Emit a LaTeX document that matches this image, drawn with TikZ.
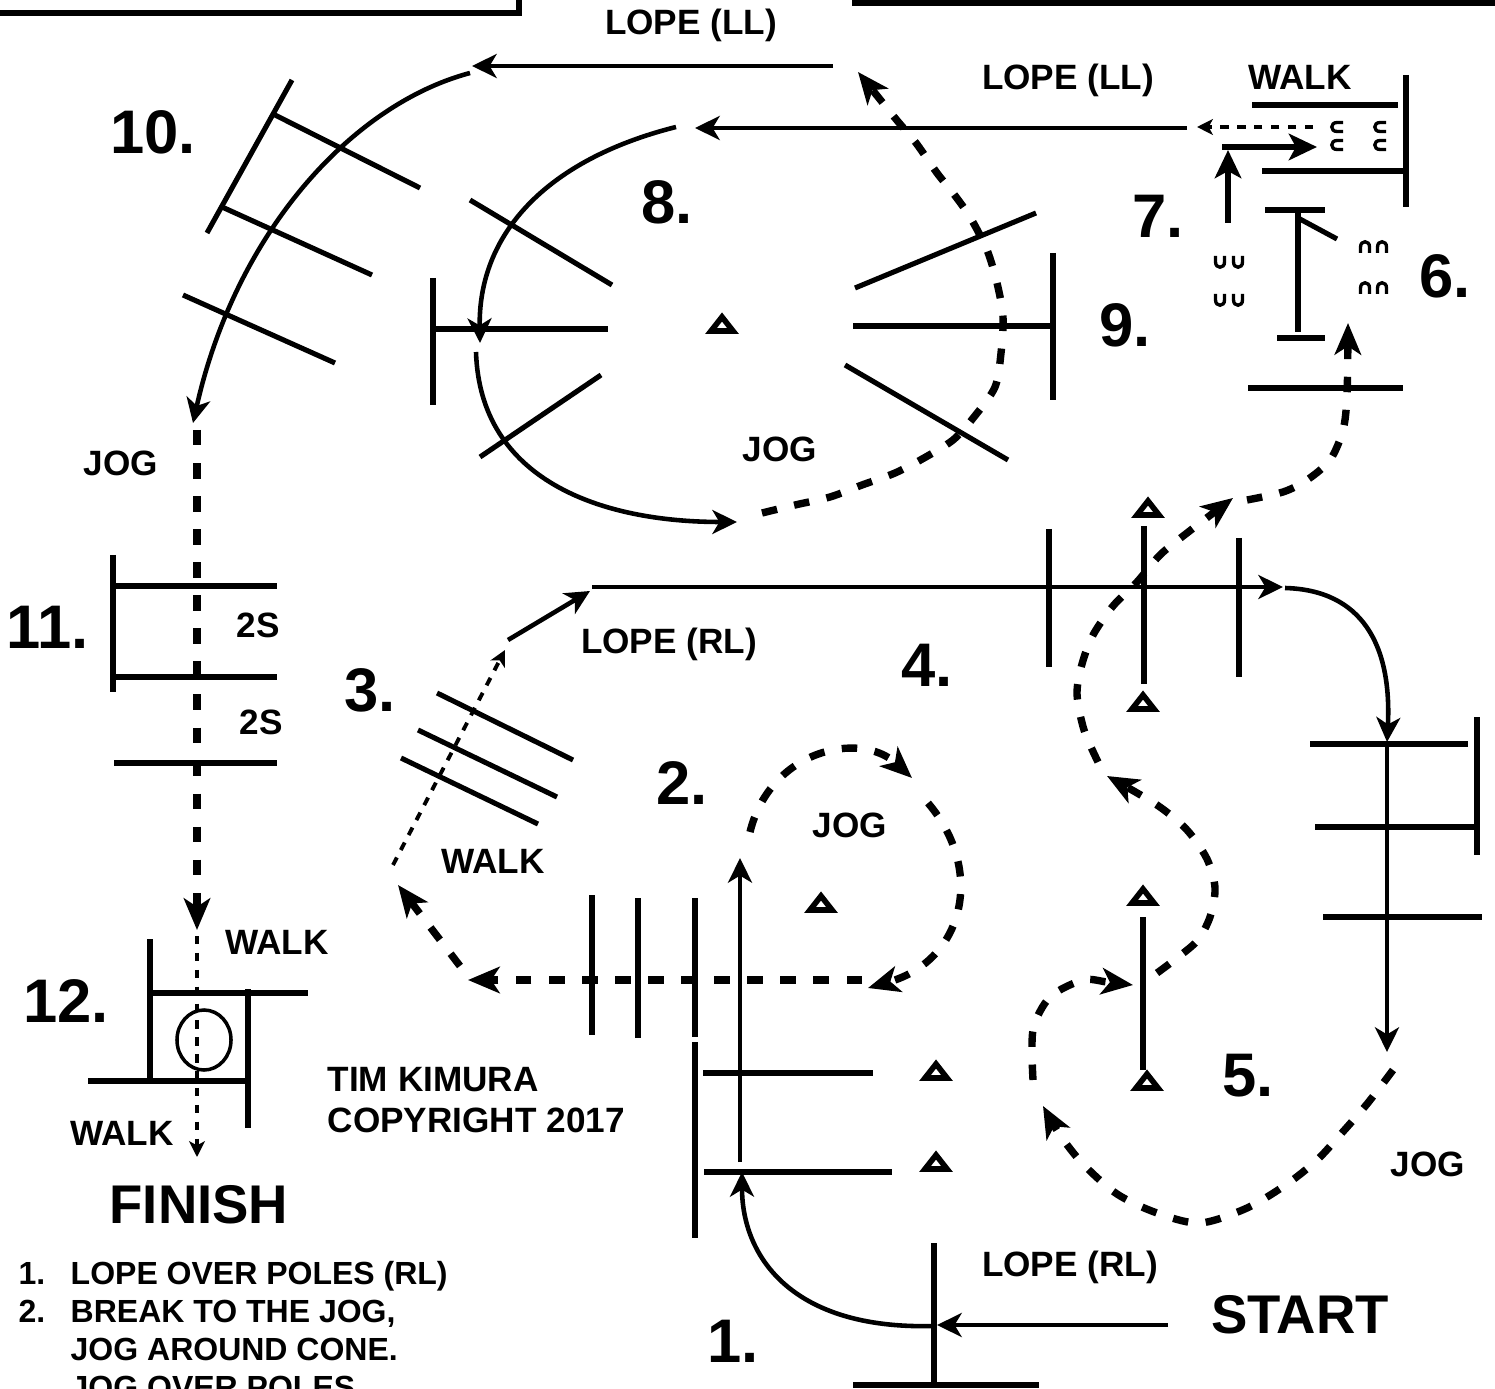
\documentclass[tikz,border=0pt]{standalone}
\usepackage{fontspec}
\setmainfont{Liberation Sans}
\usetikzlibrary{arrows.meta}

\tikzset{
  cone/.pic={\draw[line width=1.6pt,line join=miter] (-11,6) -- (11,6) -- (0,-8) -- cycle;},
  hoof/.pic={\draw[line width=0.95pt] (-4.5,6) -- (-4.5,0) .. controls (-4.5,-7) and (4.5,-7) .. (4.5,0) -- (4.5,6);}
}

\begin{document}
\begin{tikzpicture}[x=0.01cm,y=-0.01cm,
  pole/.style={line width=1.45pt},
  lope/.style={line width=1.3pt,-{Stealth[length=7pt,width=6.8pt,inset=2pt]}},
  jog/.style={line width=2.1pt,dash pattern=on 4.4pt off 5pt,-{Stealth[length=9pt,width=7.5pt,inset=2.4pt]}},
  walk/.style={line width=1.1pt,dash pattern=on 2.4pt off 2.4pt,-{Stealth[length=4.5pt,width=4.5pt,inset=1.2pt]}},
  heavy/.style={line width=1.6pt,-{Stealth[length=8pt,width=7.5pt,inset=2pt]}},
  lbl/.style={inner sep=0pt,font=\fontsize{10}{12}\selectfont\bfseries},
  num/.style={inner sep=0pt,font=\fontsize{17.5}{20}\selectfont\bfseries},
  big/.style={inner sep=0pt,font=\fontsize{15.5}{18}\selectfont\bfseries},
  list/.style={inner sep=0pt,anchor=base west,font=\fontsize{9.1}{11}\selectfont\bfseries}]
  \useasboundingbox (0,0) rectangle (1495,1389);
  \clip (0,0) rectangle (1495,1389);

  % frame pieces at the top
  \draw[line width=1.45pt] (0,13) -- (519,13) -- (519,-5);
  \draw[line width=1.7pt] (852,3) -- (1500,3);

  % 10. poles on the curve
  \draw[pole] (292,80) -- (207,233);
  \draw[pole] (275,115) -- (420,188);
  \draw[pole] (222,207) -- (372,275);
  \draw[pole] (183,295) -- (335,363);

  % 8. poles round the cone
  \draw[pole] (433,278) -- (433,405);
  \draw[pole] (433,329) -- (608,329);
  \draw[pole] (470,200) -- (612,285);
  \draw[pole] (480,457) -- (601,375);
  \draw[pole] (855,288) -- (1036,213);
  \draw[pole] (853,326) -- (1053,326);
  \draw[pole] (1053,253) -- (1053,400);
  \draw[pole] (845,365) -- (1008,460);

  % 7. walk-in box and 6. side pass
  \draw[pole] (1252,105) -- (1398,105);
  \draw[pole] (1406,75) -- (1406,207);
  \draw[pole] (1262,171) -- (1407,171);
  \draw[pole] (1265,210) -- (1325,210);
  \draw[pole] (1298,210) -- (1298,332);
  \draw[pole] (1298,218) -- (1337,239);
  \draw[pole] (1277,338) -- (1325,338);
  \draw[pole] (1248,388) -- (1403,388);

  % 11. and 12.
  \draw[pole] (113,555) -- (113,692);
  \draw[pole] (113,586) -- (277,586);
  \draw[pole] (113,677) -- (277,677);
  \draw[pole] (114,763) -- (277,763);
  \draw[pole] (150,939) -- (150,1080);
  \draw[pole] (147,993) -- (308,993);
  \draw[pole] (248,989) -- (248,1128);
  \draw[pole] (88,1081) -- (250,1081);
  \draw[line width=1pt] (204,1040) ellipse [x radius=0.27cm,y radius=0.30cm];

  % 3. walk-over poles
  \draw[pole] (437,693) -- (573,760);
  \draw[pole] (418,730) -- (557,797);
  \draw[pole] (401,758) -- (538,824);

  % 4. and the poles after it
  \draw[pole] (1049,529) -- (1049,667);
  \draw[pole] (1144,526) -- (1144,684);
  \draw[pole] (1239,538) -- (1239,677);
  \draw[pole] (1310,744) -- (1468,744);
  \draw[pole] (1477,717) -- (1477,855);
  \draw[pole] (1315,827) -- (1477,827);
  \draw[pole] (1323,917) -- (1482,917);

  % 5. single pole
  \draw[pole] (1143,917) -- (1143,1070);

  % 2. and 1.
  \draw[pole] (592,895) -- (592,1035);
  \draw[pole] (638,898) -- (638,1038);
  \draw[pole] (695,898) -- (695,1037);
  \draw[pole] (695,1042) -- (695,1238);
  \draw[pole] (703,1073) -- (873,1073);
  \draw[pole] (704,1172) -- (892,1172);
  \draw[pole] (934,1243) -- (934,1382);
  \draw[pole] (853,1385) -- (1039,1385);

  % cones
  \pic at (722,325) {cone};
  \pic at (1148,509) {cone};
  \pic at (1143,703) {cone};
  \pic at (821,904) {cone};
  \pic at (936,1072) {cone};
  \pic at (936,1163) {cone};
  \pic at (1143,897) {cone};
  \pic at (1147,1082) {cone};

  % hoof prints
  \pic at (1365,247) {hoof};
  \pic at (1382,247) {hoof};
  \pic at (1365,288) {hoof};
  \pic at (1382,288) {hoof};
  \pic[rotate=180] at (1220,262) {hoof};
  \pic[rotate=180] at (1238,262) {hoof};
  \pic[rotate=180] at (1220,300) {hoof};
  \pic[rotate=180] at (1238,300) {hoof};
  \pic[rotate=90] at (1337,127) {hoof};
  \pic[rotate=90] at (1337,145) {hoof};
  \pic[rotate=90] at (1380,127) {hoof};
  \pic[rotate=90] at (1380,145) {hoof};

  % way points of the pattern
  \coordinate (st) at (1168,1325);
  \coordinate (p1) at (937,1325);
  \coordinate (p2) at (740,858);
  \coordinate (c2) at (868,988);
  \coordinate (p3) at (468,980);
  \coordinate (w3) at (505,650);
  \coordinate (l4) at (590,591);
  \coordinate (e4) at (1283,587);
  \coordinate (t5) at (1387,742);
  \coordinate (j5) at (1387,1052);
  \coordinate (i6) at (1348,323);
  \coordinate (w7) at (1197,127);
  \coordinate (e7) at (695,128);
  \coordinate (e8) at (858,72);
  \coordinate (e9) at (472,66);
  \coordinate (e10) at (193,423);
  \coordinate (e11) at (197,930);
  \coordinate (fin) at (197,1157);

  % 1. lope in, curve up the poles
  \draw[lope] (st) -- (p1);
  \draw[lope] (934,1326) .. controls (790,1330) and (742,1255) .. (742,1172);
  \draw[lope] (740,1162) -- (p2);

  % 2. jog round the cone, back over the poles
  \draw[jog] (750,832) .. controls (770,750) and (860,730) .. (912,778);
  \draw[jog] (928,803) .. controls (985,870) and (965,960) .. (c2);
  \draw[jog] (862,980) -- (p3);
  \draw[jog] (460,966) -- (398,885);

  % 3. walk over, then lope (RL) through 4.
  \draw[walk] (393,865) -- (w3);
  \draw[lope] (508,640) -- (l4);
  \draw[lope] (592,587) -- (e4);
  \draw[lope] (1285,588) .. controls (1362,590) and (1392,645) .. (t5);
  \draw[lope] (1387,746) -- (j5);

  % 5. jog serpentine
  \draw[jog] plot[smooth] coordinates {(1393,1070) (1367,1104) (1340,1135) (1317,1160) (1287,1184) (1247,1208) (1200,1223) (1157,1213) (1117,1194) (1083,1164) (1060,1135) (1043,1106)};
  \draw[jog] plot[smooth] coordinates {(1033,1080) (1033,1030) (1050,997) (1083,980) (1107,982) (1133,985)};
  \draw[jog] plot[smooth] coordinates {(1157,973) (1173,961) (1197,941) (1210,917) (1215,888) (1207,859) (1187,830) (1157,805) (1107,776)};
  \draw[jog] plot[smooth] coordinates {(1098,762) (1084,730) (1077,694) (1082,664) (1093,635) (1113,606) (1137,582) (1160,555) (1187,533) (1233,498)};
  \draw[jog] plot[smooth] coordinates {(1247,500) (1283,492) (1307,480) (1330,460) (1343,430) (1347,395) (i6)};

  % 6. and 7. walk in, back out
  \draw[heavy] (1228,223) -- (1228,150);
  \draw[heavy] (1222,147) -- (1317,147);
  \draw[walk] (1313,127) -- (w7);

  % 8. lope (LL) round, jog out
  \draw[lope] (1187,128) -- (e7);
  \draw[lope] (676,127) .. controls (545,160) and (478,235) .. (480,343);
  \draw[lope] (476,352) .. controls (480,480) and (600,522) .. (737,522);
  \draw[jog] plot[smooth] coordinates {(762,513) (795,505) (830,497) (862,485) (895,473) (924,458) (953,440) (974,417) (995,387) (1001,353) (1003,317) (997,283) (987,250) (970,217) (953,193) (937,173) (916,143) (895,118) (e8)};

  % 10. lope (LL) over the arc of poles
  \draw[lope] (833,66) -- (e9);
  \draw[lope] (470,73) .. controls (350,105) and (235,235) .. (e10);

  % 11. jog down, 12. walk through the box
  \draw[jog] (197,430) -- (e11);
  \draw[walk] (197,936) -- (fin);

  % labels
  \node[lbl] (lopeLLa) at (691,25) {LOPE (LL)};
  \node[lbl] (lopeLLb) at (1068,80) {LOPE (LL)};
  \node[lbl] (walk7) at (1300,77) {WALK};
  \node[num] (n10) at (153,132) {10.};
  \node[num] (n8) at (667,202) {8.};
  \node[num] (n7) at (1158,216) {7.};
  \node[num] (n6) at (1445,276) {6.};
  \node[num] (n9) at (1125,325) {9.};
  \node[lbl] (jog8) at (780,449) {JOG};
  \node[lbl] (jog11) at (121,463) {JOG};
  \node[num] (n11) at (48,627) {11.};
  \node[lbl] (twoA) at (258,625) {2S};
  \node[lbl] (twoB) at (261,722) {2S};
  \node[lbl] (lopeRLa) at (669,644) {LOPE (RL)};
  \node[num] (n4) at (927,665) {4.};
  \node[num] (n3) at (370,690) {3.};
  \node[num] (n2) at (682,783) {2.};
  \node[lbl] (jog2) at (850,825) {JOG};
  \node[lbl] (walk3) at (493,861) {WALK};
  \node[lbl] (walk12a) at (277,942) {WALK};
  \node[num] (n12) at (66,1001) {12.};
  \node[lbl,anchor=west] (tim) at (327,1080) {TIM KIMURA};
  \node[lbl,anchor=west] (copy) at (327,1120) {COPYRIGHT 2017};
  \node[num] (n5) at (1248,1076) {5.};
  \node[lbl] (walk12b) at (122,1133) {WALK};
  \node[lbl] (jog5) at (1428,1164) {JOG};
  \node[big] (finish) at (199,1205) {FINISH};
  \node[lbl] (lopeRLb) at (1070,1267) {LOPE (RL)};
  \node[big] (start) at (1300,1315) {START};
  \node[num] (n1) at (733,1341) {1.};

  % list of the pattern
  \node[list] (i1) at (18,1284) {1.};
  \node[list] (t1) at (70,1284) {LOPE OVER POLES (RL)};
  \node[list] (i2) at (18,1322) {2.};
  \node[list] (t2) at (70,1322) {BREAK TO THE JOG,};
  \node[list] (t3) at (70,1360) {JOG AROUND CONE.};
  \node[list] (t4) at (70,1398) {JOG OVER POLES.};
\end{tikzpicture}
\end{document}
